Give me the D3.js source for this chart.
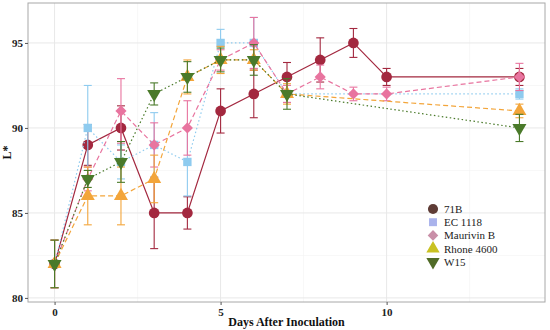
<!DOCTYPE html>
<html><head><meta charset="utf-8">
<script src="https://cdn.jsdelivr.net/npm/d3@7"></script>
<style>body{margin:0;background:#fff}svg{display:block}</style>
</head><body><svg id="c" width="550" height="330"></svg>
<script>
const days = [0,1,2,3,4,5,6,7,8,9,10,14];
const seriesNames = ["71B","EC 1118","Maurivin B","Rhone 4600","W15"];
const v71B  = [82,89,90,85,85,91,92,93,94,95,93,93];
const e71B  = [1.4,1.2,1.3,2.1,0.95,1.3,1.4,0.85,1.3,0.85,0.5,0.5];
const vEC   = [82,90,88,89,88,95,95,92,null,null,null,92];
const eEC   = [1.4,2.5,1.0,1.9,2.0,0.8,1.5,0.5,null,null,null,0.3];
const vMau  = [82,87,91,89,90,94,95,92,93,92,92,93];
const eMau  = [1.4,0.7,1.9,1.3,1.6,0.6,1.5,0.5,0.7,0.4,0.4,0.8];
const vRho  = [82,86,86,87,93,94,94,92,null,null,null,91];
const eRho  = [1.4,1.7,1.7,1.4,1.0,0.8,0.6,0.6,null,null,null,0.4];
const vW15  = [82,87,88,92,93,94,94,92,null,null,null,90];
const eW15  = [1.4,0.5,1.2,0.65,0.9,0.7,0.9,0.9,null,null,null,0.8];
const xTicks = [0,5,10];
const yTicks = [80,85,90,95];
const xMinor = [2.5,7.5,12.5];
const yMinor = [82.5,87.5,92.5];

const values = [v71B,vEC,vMau,vRho,vW15];
const errors = [e71B,eEC,eMau,eRho,eW15];
const colors = ["#a3283f","#8ecbef","#e8749f","#f3a53a","#4a7a2a"];
const legendColors = ["#5e3c36","#aab3ec","#c98fa8","#c9c122","#506b27"];
const dashes = [null,"1.5,2.5","5,3","5,3","1.5,2.5"];
const shapes = [d3.symbolCircle,d3.symbolSquare,d3.symbolSquare,d3.symbolTriangle,d3.symbolTriangle];
const rotations = [0,0,45,0,180];
const sizes = [90,70,62,85,85];

const svg = d3.select("#c");
const L=28,R=545,T=3,B=302;
const x = d3.scaleLinear().domain([-0.8,14.77]).range([L,R]);
const y = d3.scaleLinear().domain([79.76,97.35]).range([B,T]);
const font = "'Liberation Serif','Times New Roman',serif";

svg.append("rect").attr("x",L).attr("y",T).attr("width",R-L).attr("height",B-T).attr("fill","#fff");
const g = svg.append("g");
g.selectAll(".xm").data(xMinor).join("line").attr("x1",d=>x(d)).attr("x2",d=>x(d)).attr("y1",T).attr("y2",B).attr("stroke","#f2f2f2").attr("stroke-width",0.6);
g.selectAll(".ym").data(yMinor).join("line").attr("y1",d=>y(d)).attr("y2",d=>y(d)).attr("x1",L).attr("x2",R).attr("stroke","#f2f2f2").attr("stroke-width",0.6);
g.selectAll(".xM").data(xTicks).join("line").attr("x1",d=>x(d)).attr("x2",d=>x(d)).attr("y1",T).attr("y2",B).attr("stroke","#e8e8e8").attr("stroke-width",1);
g.selectAll(".yM").data(yTicks).join("line").attr("y1",d=>y(d)).attr("y2",d=>y(d)).attr("x1",L).attr("x2",R).attr("stroke","#e8e8e8").attr("stroke-width",1);

// series
values.forEach((vals,i)=>{
  const pts = days.map((d,j)=>({d, v:vals[j], e:errors[i][j]})).filter(p=>p.v!=null);
  const sg = svg.append("g");
  const line = d3.line().x(p=>x(p.d)).y(p=>y(p.v));
  sg.append("path").attr("d",line(pts)).attr("fill","none").attr("stroke",colors[i])
    .attr("stroke-width",1.2).attr("stroke-dasharray",dashes[i]);
  pts.forEach(p=>{
    const cx=x(p.d), y1=y(p.v-p.e), y2=y(p.v+p.e);
    sg.append("line").attr("x1",cx).attr("x2",cx).attr("y1",y1).attr("y2",y2).attr("stroke",colors[i]).attr("stroke-width",1.1);
    [y1,y2].forEach(yy=>sg.append("line").attr("x1",cx-4).attr("x2",cx+4).attr("y1",yy).attr("y2",yy).attr("stroke",colors[i]).attr("stroke-width",1.1));
  });
  sg.selectAll("path.pt").data(pts).join("path").attr("class","pt")
    .attr("d",d3.symbol().type(shapes[i]).size(sizes[i]))
    .attr("transform",p=>`translate(${x(p.d)},${y(p.v)}) rotate(${rotations[i]})`)
    .attr("fill",colors[i]);
});

// border
svg.append("rect").attr("x",L).attr("y",T).attr("width",R-L).attr("height",B-T).attr("fill","none").attr("stroke","#a8a8a8").attr("stroke-width",1);

// axes
const xa = svg.append("g").attr("transform",`translate(0,${B})`)
  .call(d3.axisBottom(x).tickValues(xTicks).tickSize(3).tickPadding(3).tickFormat(d3.format("d")));
const ya = svg.append("g").attr("transform",`translate(${L},0)`)
  .call(d3.axisLeft(y).tickValues(yTicks).tickSize(3).tickPadding(2).tickFormat(d3.format("d")));
[xa,ya].forEach(a=>{
  a.select(".domain").remove();
  a.selectAll(".tick line").attr("stroke","#555");
  a.selectAll("text").attr("font-family",font).attr("font-weight","bold").attr("font-size",11).attr("fill","#222");
});

svg.append("text").attr("x",(L+R)/2).attr("y",326).attr("text-anchor","middle")
  .attr("font-family",font).attr("font-weight","bold").attr("font-size",12).attr("fill","#111").text("Days After Inoculation");
svg.append("text").attr("transform",`translate(11,${(T+B)/2}) rotate(-90)`).attr("text-anchor","middle")
  .attr("font-family",font).attr("font-weight","bold").attr("font-size",12).attr("fill","#111").text("L*");

// legend
const lg = svg.append("g").attr("transform","translate(433,209)");
seriesNames.forEach((n,i)=>{
  const row = lg.append("g").attr("transform",`translate(0,${i*13.2})`);
  row.append("path").attr("d",d3.symbol().type(shapes[i]).size(sizes[i]*0.9))
    .attr("transform",`rotate(${rotations[i]})`).attr("fill",legendColors[i]);
  row.append("text").attr("x",11).attr("y",4).attr("font-family",font).attr("font-size",11).attr("fill","#222").text(n);
});
</script></body></html>
